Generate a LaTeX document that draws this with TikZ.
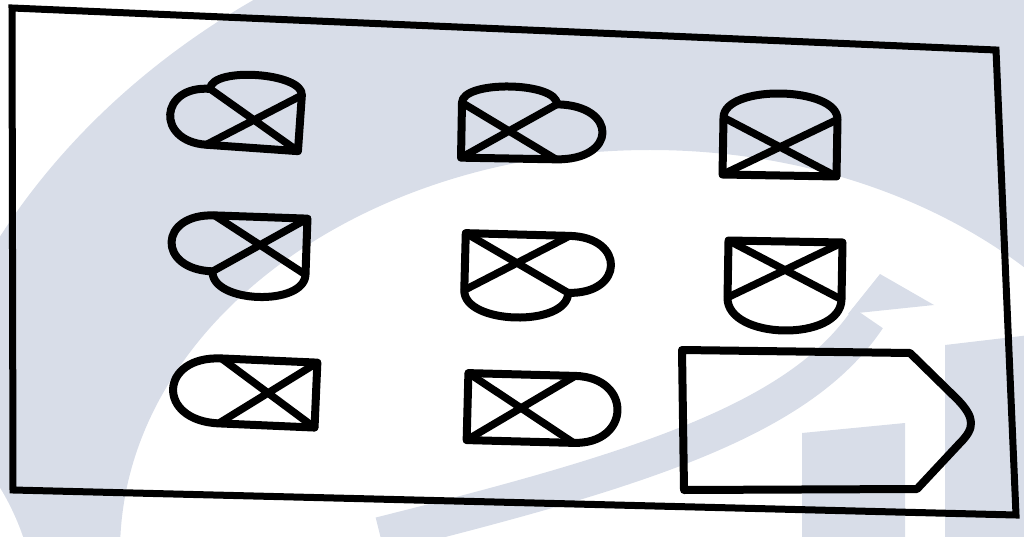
\documentclass[tikz,border=0pt]{standalone}
\usepackage{tikz}
\usetikzlibrary{calc}
\definecolor{wmgray}{RGB}{216,221,232}
\tikzset{
  outline/.style={line width=8pt, line join=round, line cap=round},
  diag/.style={line width=7.5pt, line cap=round},
  frame/.style={line width=7pt, line join=miter},
}
% centre x, centre y, tilt, width, height, then how far the left, top, right and bottom side bulge out
\newcommand{\crossbox}[9]{%
  \begin{scope}[shift={(#1,#2)}, rotate=#3]
    \coordinate (tl) at ({-#4/2},{-#5/2});
    \coordinate (tr) at ({#4/2},{-#5/2});
    \coordinate (br) at ({#4/2},{#5/2});
    \coordinate (bl) at ({-#4/2},{#5/2});
    \draw[outline] (tl) .. controls +(0,{-#7*4/3}) and +(0,{-#7*4/3}) .. (tr)
      .. controls +({#8*4/3},0) and +({#8*4/3},0) .. (br)
      .. controls +(0,{#9*4/3}) and +(0,{#9*4/3}) .. (bl)
      .. controls +({-#6*4/3},0) and +({-#6*4/3},0) .. (tl) -- cycle;
    \draw[diag] (tl) -- (br) (tr) -- (bl);
  \end{scope}}

\begin{document}
\begin{tikzpicture}[x=1pt, y=-1pt]
  \useasboundingbox (0,0) rectangle (1024,537);
  % faint logo in the background
  \begin{scope}
    \clip (0,0) rectangle (1024,537);
    \fill[wmgray, even odd rule] (700,560) ellipse [x radius=797pt, y radius=676pt]
      (650,552) ellipse [x radius=530pt, y radius=402pt];
    \fill[white] (-120,640) ellipse [x radius=160pt, y radius=230pt];
    \draw[wmgray, line width=36pt] (380,535) .. controls (640,470) and (800,420) .. (868,318);
    \fill[wmgray] (880,274) -- (848,314) -- (934,305) -- cycle;
    \fill[wmgray] (802,433) -- (905,423) -- (905,540) -- (802,540) -- cycle;
    \fill[wmgray] (945,345) -- (1030,335) -- (1030,540) -- (945,540) -- cycle;
  \end{scope}

  % the sheet
  \coordinate (s1) at (12,8);
  \coordinate (s2) at (996,50);
  \coordinate (s3) at (1016,515);
  \coordinate (s4) at (13,490);
  \draw[frame] (s1) -- (s2) -- (s3) -- (s4) -- cycle;

  % first row
  \crossbox{254}{120}{-4}{92}{56}{38}{17}{0}{0}
  \crossbox{509}{131}{-1}{95}{55}{0}{17}{46}{0}
  \crossbox{780}{147}{-1}{114}{57}{0}{25}{0}{0}
  % second row
  \crossbox{260}{245}{-2}{93}{56}{42}{0}{0}{24}
  \crossbox{517}{263}{-1.5}{104}{57}{0}{0}{42}{26}
  \crossbox{785}{270}{-1}{114}{57}{0}{0}{0}{32}
  % third row
  \crossbox{268}{393}{-2.5}{96}{65}{47}{0}{0}{0}
  \crossbox{521}{408}{-1.5}{107}{67}{0}{0}{43}{0}

  % the empty tag
  \draw[outline] (682,350) -- (910,353) -- (958,400)
    .. controls (975,418) and (975,428) .. (960,443) -- (917,489) -- (684,490) -- cycle;
\end{tikzpicture}
\end{document}
